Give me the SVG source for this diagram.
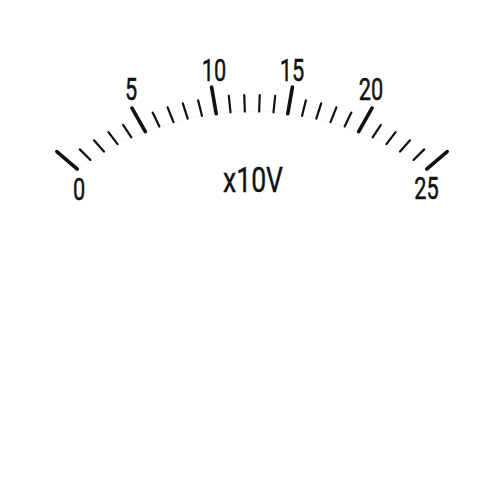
<svg xmlns="http://www.w3.org/2000/svg" width="500" height="500" viewBox="0 0 500 500">
<style>
.maj{stroke:#111;stroke-width:3.6;stroke-linecap:round}
.min{stroke:#111;stroke-width:2.2;stroke-linecap:round}
.lbl{font-family:Roboto,"Liberation Sans",sans-serif;font-size:32px;fill:#111;text-anchor:middle;stroke:#111;stroke-width:0.5}
.unit{font-family:Roboto,"Liberation Sans",sans-serif;font-size:36px;fill:#111;text-anchor:middle;stroke:#111;stroke-width:0.4}
</style>
<rect width="500" height="500" fill="#fff"/>
<g id="arc">
<path d="M77.2,168.9 A293.5,293.5 0 0 1 426.8,168.9" fill="none" stroke="#ececec" stroke-width="0.6"/>
</g>
<g id="ticks">
<line class="maj" x1="252" y1="89.18" x2="252" y2="62.18" transform="rotate(-49.2 252 320)"/>
<line class="min" x1="252" y1="92.60" x2="252" y2="77.6" transform="rotate(-45.264 252 320)"/>
<line class="min" x1="252" y1="95.75" x2="252" y2="80.75" transform="rotate(-41.328 252 320)"/>
<line class="min" x1="252" y1="98.61" x2="252" y2="83.61" transform="rotate(-37.392 252 320)"/>
<line class="min" x1="252" y1="101.18" x2="252" y2="86.18" transform="rotate(-33.456 252 320)"/>
<line class="maj" x1="252" y1="103.47" x2="252" y2="76.47" transform="rotate(-29.52 252 320)"/>
<line class="min" x1="252" y1="105.47" x2="252" y2="89.97" transform="rotate(-25.584 252 320)"/>
<line class="min" x1="252" y1="107.19" x2="252" y2="91.19" transform="rotate(-21.648 252 320)"/>
<line class="min" x1="252" y1="108.62" x2="252" y2="92.62" transform="rotate(-17.712 252 320)"/>
<line class="min" x1="252" y1="109.76" x2="252" y2="93.76" transform="rotate(-13.776 252 320)"/>
<line class="maj" x1="252" y1="110.61" x2="252" y2="83.61" transform="rotate(-9.84 252 320)"/>
<line class="min" x1="252" y1="111.18" x2="252" y2="94.68" transform="rotate(-5.904 252 320)"/>
<line class="min" x1="252" y1="111.46" x2="252" y2="94.96" transform="rotate(-1.968 252 320)"/>
<line class="min" x1="252" y1="111.46" x2="252" y2="94.96" transform="rotate(1.968 252 320)"/>
<line class="min" x1="252" y1="111.18" x2="252" y2="94.68" transform="rotate(5.904 252 320)"/>
<line class="maj" x1="252" y1="110.61" x2="252" y2="83.61" transform="rotate(9.84 252 320)"/>
<line class="min" x1="252" y1="109.76" x2="252" y2="93.76" transform="rotate(13.776 252 320)"/>
<line class="min" x1="252" y1="108.62" x2="252" y2="92.62" transform="rotate(17.712 252 320)"/>
<line class="min" x1="252" y1="107.19" x2="252" y2="91.19" transform="rotate(21.648 252 320)"/>
<line class="min" x1="252" y1="105.47" x2="252" y2="89.97" transform="rotate(25.584 252 320)"/>
<line class="maj" x1="252" y1="103.47" x2="252" y2="76.47" transform="rotate(29.52 252 320)"/>
<line class="min" x1="252" y1="101.18" x2="252" y2="86.18" transform="rotate(33.456 252 320)"/>
<line class="min" x1="252" y1="98.61" x2="252" y2="83.61" transform="rotate(37.392 252 320)"/>
<line class="min" x1="252" y1="95.75" x2="252" y2="80.75" transform="rotate(41.328 252 320)"/>
<line class="min" x1="252" y1="92.60" x2="252" y2="77.6" transform="rotate(45.264 252 320)"/>
<line class="maj" x1="252" y1="89.18" x2="252" y2="62.18" transform="rotate(49.2 252 320)"/>
</g>
<g id="labels">
<text class="lbl" transform="translate(79 199.5) scale(0.68 1)">0</text>
<text class="lbl" transform="translate(131 100) scale(0.68 1)">5</text>
<text class="lbl" transform="translate(214 80.5) scale(0.68 1)">10</text>
<text class="lbl" transform="translate(292 80.5) scale(0.68 1)">15</text>
<text class="lbl" transform="translate(371 100) scale(0.68 1)">20</text>
<text class="lbl" transform="translate(426.5 199) scale(0.68 1)">25</text>
<text class="unit" transform="translate(253 191.7) scale(0.74 1)">x10V</text>
</g>
</svg>
